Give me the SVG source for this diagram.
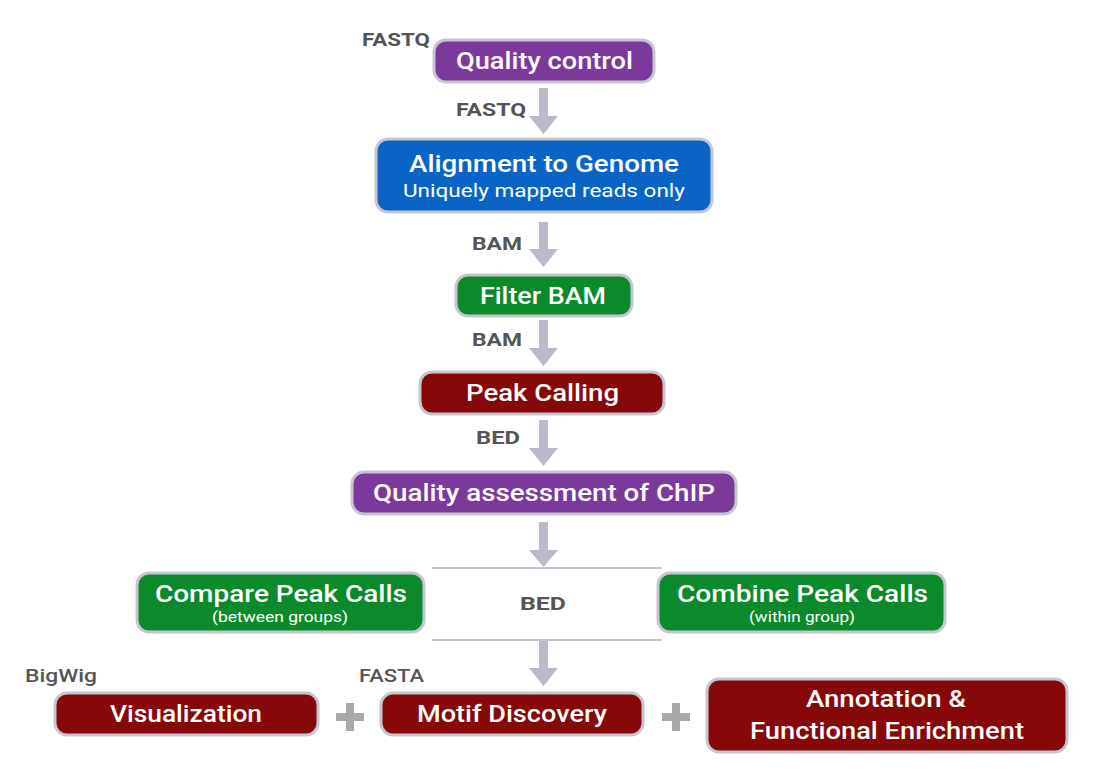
<svg xmlns="http://www.w3.org/2000/svg" width="1093" height="780" viewBox="0 0 1093 780">
<style>
.box{stroke:#c6c6d0;stroke-width:3}
.purple{fill:#7b3a9b}
.blue{fill:#0a64c6}
.green{fill:#0b8a2b}
.red{fill:#860808}
.t{font-family:Roboto,"Liberation Sans",Arial,sans-serif;font-weight:500;fill:#fff;text-anchor:middle}
.big{font-size:24px}
.sub{font-size:19px;font-weight:400}
.small{font-size:14px;font-weight:400}
.lbl{font-family:Roboto,"Liberation Sans",Arial,sans-serif;font-weight:bold;font-size:18px;fill:#555}
.arr{fill:#babaca}
.sep{stroke:#c6c6d0;stroke-width:2}
.plus{fill:#a9a9a9}
</style>
<rect width="1093" height="780" fill="#fff"/>
<g id="connectors">
<polygon class="arr" points="539,88 548,88 548,116 558,116 543.5,134 529,116 539,116"/>
<polygon class="arr" points="539,222 548,222 548,249 558,249 543.5,267 529,249 539,249"/>
<polygon class="arr" points="539,320 548,320 548,348 558,348 543.5,366 529,348 539,348"/>
<polygon class="arr" points="539,420 548,420 548,448 558,448 543.5,466 529,448 539,448"/>
<polygon class="arr" points="539,522 548,522 548,550 558,550 543.5,567 529,550 539,550"/>
<line class="sep" x1="432" y1="568" x2="662" y2="568"/>
<line class="sep" x1="432" y1="640" x2="662" y2="640"/>
<polygon class="arr" points="539,641 548,641 548,668 558,668 543.5,686 529,668 539,668"/>
<text class="lbl" x="362" y="46" textLength="68" lengthAdjust="spacingAndGlyphs">FASTQ</text>
<text class="lbl" x="456" y="116" textLength="70" lengthAdjust="spacingAndGlyphs">FASTQ</text>
<text class="lbl" x="472" y="250" textLength="50" lengthAdjust="spacingAndGlyphs">BAM</text>
<text class="lbl" x="472" y="346" textLength="50" lengthAdjust="spacingAndGlyphs">BAM</text>
<text class="lbl" x="476" y="444" textLength="44" lengthAdjust="spacingAndGlyphs">BED</text>
<text class="lbl" x="520" y="610" textLength="46" lengthAdjust="spacingAndGlyphs">BED</text>
<text class="lbl" x="25" y="682" style="font-weight:500" textLength="72" lengthAdjust="spacingAndGlyphs">BigWig</text>
<text class="lbl" x="359" y="682" style="font-weight:500" textLength="65" lengthAdjust="spacingAndGlyphs">FASTA</text>
<rect class="plus" x="336" y="713" width="28" height="8"/>
<rect class="plus" x="346" y="703" width="8" height="28"/>
<rect class="plus" x="662" y="713" width="28" height="8"/>
<rect class="plus" x="672" y="703" width="8" height="28"/>
</g>
<g id="n1"><rect class="box purple" x="434" y="40" width="220" height="42" rx="12"/><text class="t big" x="544.5" y="69" textLength="177" lengthAdjust="spacingAndGlyphs">Quality control</text></g>
<g id="n2"><rect class="box blue" x="376" y="139" width="336" height="73" rx="12"/><text class="t big" x="544" y="172" textLength="270" lengthAdjust="spacingAndGlyphs">Alignment to Genome</text><text class="t sub" x="544" y="197" textLength="282" lengthAdjust="spacingAndGlyphs">Uniquely mapped reads only</text></g>
<g id="n3"><rect class="box green" x="456" y="275" width="176" height="41" rx="12"/><text class="t big" x="543" y="304" textLength="126" lengthAdjust="spacingAndGlyphs">Filter BAM</text></g>
<g id="n4"><rect class="box red" x="420" y="372" width="244" height="42" rx="12"/><text class="t big" x="542.5" y="401" textLength="153" lengthAdjust="spacingAndGlyphs">Peak Calling</text></g>
<g id="n5"><rect class="box purple" x="352" y="472" width="384" height="42" rx="12"/><text class="t big" x="544" y="501" textLength="342" lengthAdjust="spacingAndGlyphs">Quality assessment of ChIP</text></g>
<g id="n6"><rect class="box green" x="137" y="573" width="287" height="59" rx="12"/><text class="t big" x="281" y="602" textLength="252" lengthAdjust="spacingAndGlyphs">Compare Peak Calls</text><text class="t small" x="280" y="622" textLength="136" lengthAdjust="spacingAndGlyphs">(between groups)</text></g>
<g id="n7"><rect class="box green" x="658" y="573" width="287" height="59" rx="12"/><text class="t big" x="802.5" y="602" textLength="251" lengthAdjust="spacingAndGlyphs">Combine Peak Calls</text><text class="t small" x="802" y="622" textLength="106" lengthAdjust="spacingAndGlyphs">(within group)</text></g>
<g id="n8"><rect class="box red" x="55" y="693" width="263" height="42" rx="12"/><text class="t big" x="186" y="722" textLength="152" lengthAdjust="spacingAndGlyphs">Visualization</text></g>
<g id="n9"><rect class="box red" x="381" y="693" width="262" height="42" rx="12"/><text class="t big" x="512" y="722" textLength="190" lengthAdjust="spacingAndGlyphs">Motif Discovery</text></g>
<g id="n10"><rect class="box red" x="707" y="679" width="360" height="73" rx="12"/><text class="t big" x="886" y="707" textLength="160" lengthAdjust="spacingAndGlyphs">Annotation &amp;</text><text class="t big" x="887" y="739" textLength="274" lengthAdjust="spacingAndGlyphs">Functional Enrichment</text></g>
</svg>
